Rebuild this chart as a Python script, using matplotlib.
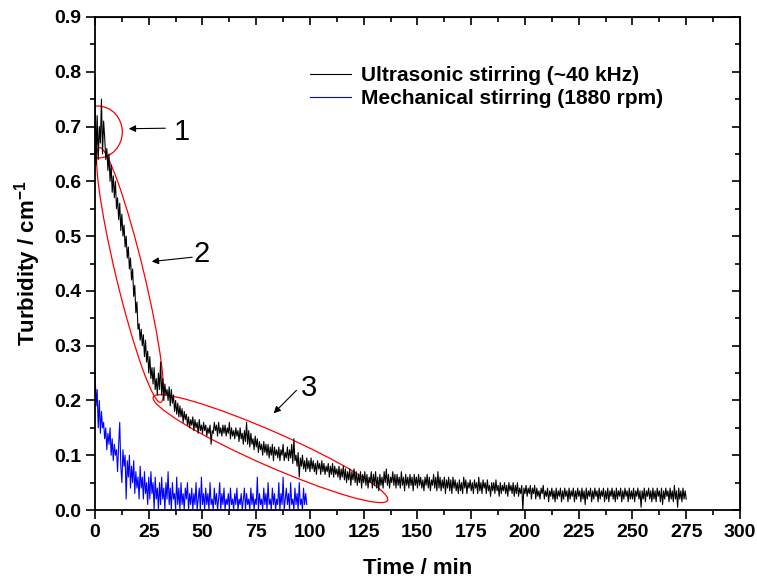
import numpy as np
import matplotlib
matplotlib.use("Agg")
import matplotlib.pyplot as plt
from matplotlib import transforms
from matplotlib.patches import Ellipse
from matplotlib.ticker import MultipleLocator

plt.rcParams['font.family'] = ['Liberation Sans', 'DejaVu Sans']
plt.rcParams['mathtext.fontset'] = 'custom'
plt.rcParams['mathtext.rm'] = 'Liberation Sans:bold'
plt.rcParams['mathtext.bf'] = 'Liberation Sans:bold'

# turbidity, two readings per minute
ultra = [
    0.79, 0.63, 0.72, 0.64, 0.70, 0.67, 0.75, 0.65, 0.71, 0.68,
    0.64, 0.66, 0.62, 0.65, 0.60, 0.63, 0.58, 0.61, 0.57, 0.60,
    0.55, 0.57, 0.53, 0.56, 0.51, 0.54, 0.50, 0.52, 0.48, 0.50,
    0.46, 0.48, 0.44, 0.46, 0.42, 0.44, 0.39, 0.41, 0.36, 0.38,
    0.33, 0.34, 0.31, 0.33, 0.30, 0.32, 0.28, 0.31, 0.27, 0.29,
    0.25, 0.28, 0.24, 0.26, 0.23, 0.26, 0.22, 0.24, 0.21, 0.25,
    0.22, 0.27, 0.21, 0.24, 0.20, 0.23, 0.21, 0.22, 0.20, 0.225,
    0.19, 0.22, 0.195, 0.21, 0.18, 0.20, 0.175, 0.195, 0.17, 0.19,
    0.17, 0.185, 0.16, 0.18, 0.165, 0.175, 0.155, 0.17, 0.15, 0.165,
    0.155, 0.17, 0.145, 0.165, 0.15, 0.16, 0.14, 0.165, 0.145, 0.155,
    0.14, 0.16, 0.145, 0.155, 0.135, 0.15, 0.14, 0.155, 0.12, 0.145,
    0.14, 0.16, 0.145, 0.155, 0.135, 0.16, 0.14, 0.15, 0.135, 0.155,
    0.14, 0.155, 0.135, 0.15, 0.14, 0.16, 0.13, 0.15, 0.135, 0.145,
    0.13, 0.15, 0.135, 0.145, 0.125, 0.15, 0.13, 0.14, 0.12, 0.145,
    0.125, 0.16, 0.12, 0.145, 0.115, 0.14, 0.12, 0.13, 0.11, 0.135,
    0.115, 0.13, 0.105, 0.125, 0.11, 0.12, 0.10, 0.125, 0.105, 0.12,
    0.10, 0.12, 0.095, 0.115, 0.10, 0.12, 0.09, 0.115, 0.10, 0.11,
    0.095, 0.115, 0.09, 0.11, 0.10, 0.12, 0.09, 0.105, 0.095, 0.115,
    0.09, 0.11, 0.095, 0.12, 0.085, 0.13, 0.09, 0.10, 0.08, 0.105,
    0.06, 0.095, 0.08, 0.10, 0.075, 0.09, 0.07, 0.095, 0.075, 0.09,
    0.07, 0.095, 0.075, 0.09, 0.07, 0.085, 0.065, 0.09, 0.075, 0.085,
    0.065, 0.09, 0.07, 0.085, 0.065, 0.08, 0.07, 0.085, 0.06, 0.08,
    0.065, 0.085, 0.06, 0.08, 0.065, 0.075, 0.06, 0.08, 0.055, 0.075,
    0.06, 0.08, 0.055, 0.075, 0.05, 0.07, 0.055, 0.075, 0.045, 0.07,
    0.055, 0.075, 0.05, 0.07, 0.045, 0.065, 0.05, 0.07, 0.04, 0.065,
    0.05, 0.07, 0.045, 0.065, 0.04, 0.06, 0.05, 0.07, 0.04, 0.065,
    0.045, 0.07, 0.04, 0.06, 0.035, 0.065, 0.045, 0.06, 0.04, 0.07,
    0.05, 0.075, 0.045, 0.065, 0.04, 0.06, 0.05, 0.07, 0.045, 0.065,
    0.04, 0.065, 0.045, 0.06, 0.04, 0.07, 0.045, 0.06, 0.035, 0.065,
    0.045, 0.06, 0.04, 0.065, 0.045, 0.06, 0.035, 0.065, 0.045, 0.06,
    0.04, 0.065, 0.045, 0.06, 0.04, 0.055, 0.035, 0.06, 0.045, 0.065,
    0.04, 0.06, 0.035, 0.055, 0.045, 0.065, 0.04, 0.06, 0.035, 0.07,
    0.04, 0.06, 0.035, 0.055, 0.04, 0.06, 0.03, 0.055, 0.04, 0.06,
    0.035, 0.055, 0.03, 0.06, 0.04, 0.055, 0.035, 0.05, 0.03, 0.055,
    0.035, 0.05, 0.03, 0.06, 0.04, 0.055, 0.03, 0.05, 0.04, 0.055,
    0.035, 0.05, 0.03, 0.055, 0.04, 0.05, 0.03, 0.06, 0.035, 0.05,
    0.03, 0.055, 0.04, 0.05, 0.03, 0.055, 0.035, 0.045, 0.025, 0.05,
    0.035, 0.05, 0.03, 0.055, 0.035, 0.045, 0.025, 0.05, 0.03, 0.045,
    0.035, 0.05, 0.03, 0.045, 0.025, 0.05, 0.035, 0.045, 0.03, 0.05,
    0.025, 0.045, 0.03, 0.05, 0.025, 0.04, 0.03, 0.045, 0.0, 0.04,
    0.03, 0.045, 0.025, 0.04, 0.03, 0.045, 0.02, 0.04, 0.03, 0.045,
    0.02, 0.04, 0.025, 0.035, 0.02, 0.04, 0.03, 0.045, 0.02, 0.035,
    0.025, 0.04, 0.015, 0.035, 0.025, 0.04, 0.02, 0.035, 0.015, 0.04,
    0.02, 0.035, 0.025, 0.04, 0.015, 0.035, 0.02, 0.04, 0.025, 0.035,
    0.015, 0.04, 0.02, 0.035, 0.025, 0.04, 0.015, 0.035, 0.02, 0.04,
    0.025, 0.035, 0.015, 0.04, 0.02, 0.035, 0.01, 0.04, 0.02, 0.035,
    0.025, 0.04, 0.015, 0.035, 0.02, 0.04, 0.025, 0.035, 0.015, 0.04,
    0.02, 0.035, 0.025, 0.04, 0.015, 0.035, 0.02, 0.04, 0.015, 0.035,
    0.025, 0.04, 0.02, 0.035, 0.015, 0.04, 0.02, 0.035, 0.025, 0.04,
    0.015, 0.035, 0.02, 0.04, 0.025, 0.035, 0.015, 0.04, 0.02, 0.035,
    0.02, 0.04, 0.015, 0.035, 0.025, 0.04, 0.02, 0.035, 0.005, 0.035,
    0.02, 0.04, 0.015, 0.035, 0.025, 0.04, 0.02, 0.035, 0.015, 0.04,
    0.02, 0.035, 0.015, 0.04, 0.025, 0.035, 0.015, 0.04, 0.01, 0.035,
    0.02, 0.04, 0.025, 0.035, 0.015, 0.04, 0.02, 0.035, 0.015, 0.045,
    0.02, 0.035, 0.005, 0.04, 0.02, 0.035, 0.015, 0.04, 0.02, 0.035,
    0.02,
]
mech = [
    0.26, 0.19, 0.22, 0.15, 0.20, 0.14, 0.18, 0.15, 0.16, 0.13,
    0.15, 0.11, 0.14, 0.12, 0.15, 0.10, 0.13, 0.09, 0.12, 0.10,
    0.11, 0.07, 0.12, 0.16, 0.08, 0.05, 0.11, 0.08, 0.10, 0.02,
    0.09, 0.06, 0.10, 0.04, 0.08, 0.05, 0.09, 0.03, 0.07, 0.04,
    0.06, 0.02, 0.08, 0.04, 0.06, 0.02, 0.07, 0.03, 0.05, 0.01,
    0.06, 0.02, 0.07, 0.03, 0.05, 0.00, 0.06, 0.02, 0.04, 0.00,
    0.05, 0.01, 0.06, 0.02, 0.04, 0.00, 0.05, 0.02, 0.07, 0.01,
    0.04, 0.00, 0.05, 0.02, 0.03, 0.00, 0.06, 0.01, 0.04, 0.00,
    0.05, 0.01, 0.03, 0.00, 0.04, 0.02, 0.05, 0.00, 0.03, 0.01,
    0.04, 0.00, 0.03, 0.01, 0.05, 0.00, 0.02, 0.04, 0.00, 0.06,
    0.01, 0.03, 0.00, 0.04, 0.01, 0.03, 0.00, 0.05, 0.01, 0.02,
    0.00, 0.04, 0.01, 0.03, 0.00, 0.02, 0.05, 0.00, 0.03, 0.01,
    0.04, 0.00, 0.02, 0.01, 0.03, 0.00, 0.04, 0.01, 0.02, 0.00,
    0.03, 0.01, 0.04, 0.00, 0.02, 0.01, 0.03, 0.00, 0.02, 0.04,
    0.00, 0.03, 0.01, 0.02, 0.00, 0.04, 0.01, 0.03, 0.00, 0.02,
    0.01, 0.06, 0.00, 0.03, 0.01, 0.02, 0.00, 0.04, 0.01, 0.03,
    0.00, 0.05, 0.01, 0.02, 0.00, 0.04, 0.01, 0.03, 0.00, 0.02,
    0.01, 0.05, 0.00, 0.03, 0.01, 0.06, 0.00, 0.02, 0.04, 0.01,
    0.03, 0.00, 0.05, 0.01, 0.02, 0.00, 0.04, 0.01, 0.03, 0.00,
    0.05, 0.01, 0.02, 0.00, 0.04, 0.01, 0.03, 0.01,
]
t_ultra = np.arange(len(ultra)) * 0.5
t_mech = np.arange(len(mech)) * 0.5

labels = ['Ultrasonic stirring (~40 kHz)', 'Mechanical stirring (1880 rpm)']

fig = plt.figure(figsize=(7.57, 5.82), dpi=100)
ax = fig.add_axes([0.1255, 0.1237, 0.852, 0.8471])

ax.plot(t_ultra, ultra, color='black', lw=0.8, label=labels[0])
ax.plot(t_mech, mech, color='blue', lw=0.8, label=labels[1])

ax.set_xlim(0, 300)
ax.set_ylim(0, 0.9)
ax.xaxis.set_major_locator(MultipleLocator(25))
ax.xaxis.set_minor_locator(MultipleLocator(12.5))
ax.yaxis.set_major_locator(MultipleLocator(0.1))
ax.yaxis.set_minor_locator(MultipleLocator(0.05))
ax.yaxis.set_major_formatter(plt.FormatStrFormatter('%.1f'))
ax.tick_params(which='both', direction='out', width=1.2, labelsize=14)
ax.tick_params(which='major', length=6.5)
ax.tick_params(which='minor', length=3.5)
for lab in ax.get_xticklabels() + ax.get_yticklabels():
    lab.set_fontweight('bold')
for s in ax.spines.values():
    s.set_linewidth(1.3)

# mirrored ticks pointing inward on top and right
top = ax.secondary_xaxis('top')
top.xaxis.set_major_locator(MultipleLocator(25))
top.xaxis.set_minor_locator(MultipleLocator(12.5))
top.tick_params(which='both', direction='in', width=1.2, labeltop=False)
top.tick_params(which='major', length=6)
top.tick_params(which='minor', length=3.5)
right = ax.secondary_yaxis('right')
right.yaxis.set_major_locator(MultipleLocator(0.1))
right.yaxis.set_minor_locator(MultipleLocator(0.05))
right.tick_params(which='both', direction='in', width=1.2, labelright=False)
right.tick_params(which='major', length=6)
right.tick_params(which='minor', length=3.5)

ax.set_xlabel('Time / min', fontsize=16, fontweight='bold', labelpad=12)
ax.set_ylabel('Turbidity / cm$^{\\mathregular{-1}}$', fontsize=16, fontweight='bold', labelpad=8)

leg = ax.legend(loc='upper left', bbox_to_anchor=(0.333, 0.90), frameon=False,
                prop={'weight': 'bold', 'size': 15}, borderpad=0, borderaxespad=0,
                handlelength=2.0, handletextpad=0.45, labelspacing=0.2)
for h in leg.get_lines():
    h.set_linewidth(0.8)

# red outlines, sized in pixels around a data-space centre
def outline(xc, yc, w_px, h_px, angle):
    tr = fig.dpi_scale_trans + transforms.ScaledTranslation(xc, yc, ax.transData)
    e = Ellipse((0, 0), w_px / fig.dpi, h_px / fig.dpi, angle=angle,
                transform=tr, fill=False, edgecolor='red', lw=0.9)
    ax.add_patch(e)

outline(1.3, 0.69, 49, 52, 0)
outline(16.3, 0.429, 262, 28, -76.5)
outline(81.6, 0.112, 256, 34, -23.8)

arrow = dict(arrowstyle='-|>', color='black', lw=0.8, mutation_scale=10)
ax.annotate('', xy=(14.4, 0.696), xytext=(34, 0.697), arrowprops=arrow)
ax.annotate('', xy=(25.1, 0.453), xytext=(46.5, 0.462), arrowprops=arrow)
ax.annotate('', xy=(82.2, 0.173), xytext=(94.6, 0.222), arrowprops=arrow)
ax.text(40.5, 0.69, '1', fontsize=21, ha='center', va='center')
ax.text(49.8, 0.467, '2', fontsize=21, ha='center', va='center')
ax.text(99.5, 0.222, '3', fontsize=21, ha='center', va='center')

fig.savefig('out.png', dpi=100)
